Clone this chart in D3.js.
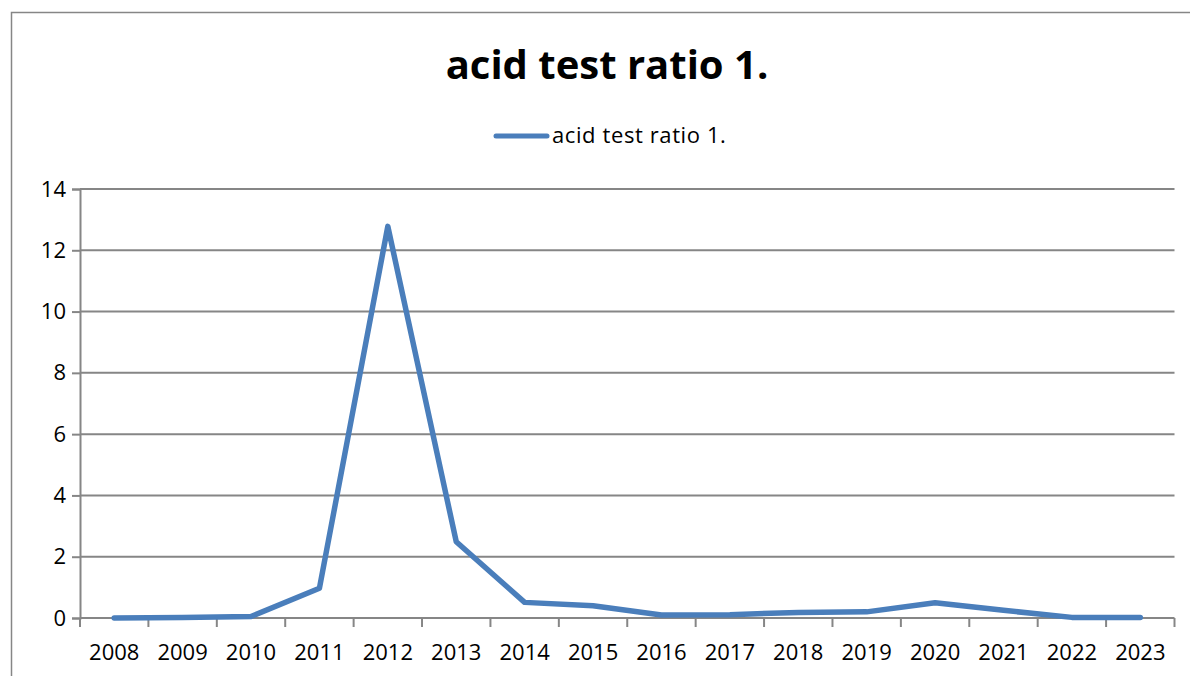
<!DOCTYPE html>
<html>
<head>
<meta charset="utf-8">
<script src="https://cdn.jsdelivr.net/npm/d3@7"></script>
<style>
  body { margin: 0; background: #fff; }
  svg { display: block; font-family: "Open Sans", Lato, sans-serif; }
</style>
</head>
<body>
<div id="chart"></div>
<script>
// chart data
var years = ['2008', '2009', '2010', '2011', '2012', '2013', '2014', '2015',
             '2016', '2017', '2018', '2019', '2020', '2021', '2022', '2023'];
var ratioValues = [0, 0.02, 0.05, 0.97, 12.78, 2.49, 0.51, 0.4,
                   0.1, 0.11, 0.18, 0.2, 0.5, 0.25, 0.02, 0.02];
var yTicks = [0, 2, 4, 6, 8, 10, 12, 14];
var seriesName = 'acid test ratio 1.';

var width = 1190;
var height = 676;
var margin = { top: 189, right: 1190 - 1174.5, bottom: 676 - 618, left: 80 };
var lineColor = '#4a7ebb';
var gridColor = '#868686';
var fontFamily = '"Open Sans", Lato, sans-serif';

var svg = d3.select('#chart').append('svg')
    .attr('width', width)
    .attr('height', height);

// outer chart border
svg.append('path')
    .attr('d', 'M11.5,' + height + 'V12.5H' + width)
    .attr('fill', 'none')
    .attr('stroke', gridColor)
    .attr('stroke-width', 1.5);

// title
svg.append('text')
    .attr('x', 607)
    .attr('y', 79)
    .attr('text-anchor', 'middle')
    .attr('font-size', 40)
    .attr('font-weight', 'bold')
    .attr('fill', '#000')
    .text(seriesName);

// legend
var legend = svg.append('g');
legend.append('line')
    .attr('x1', 496).attr('x2', 547)
    .attr('y1', 136).attr('y2', 136)
    .attr('stroke', lineColor)
    .attr('stroke-width', 5)
    .attr('stroke-linecap', 'round');
legend.append('text')
    .attr('x', 552)
    .attr('y', 143)
    .attr('font-size', 22)
    .attr('letter-spacing', 0.6)
    .attr('fill', '#000')
    .text(seriesName);

var x = d3.scaleBand()
    .domain(years)
    .range([margin.left, width - margin.right]);

var y = d3.scaleLinear()
    .domain([0, 14])
    .range([height - margin.bottom, margin.top]);

// y axis
var yAxis = svg.append('g')
    .attr('transform', 'translate(' + margin.left + ',0)')
    .call(d3.axisLeft(y)
        .tickValues(yTicks)
        .tickSize(8)
        .tickPadding(6));
yAxis.select('.domain').attr('stroke', gridColor).attr('stroke-width', 2);
yAxis.selectAll('.tick line').attr('stroke', gridColor).attr('stroke-width', 2);
yAxis.selectAll('.tick text')
    .attr('font-size', 22)
    .attr('fill', '#000')
    .attr('font-family', fontFamily);

// horizontal gridlines
svg.append('g')
    .selectAll('line')
    .data(yTicks)
    .join('line')
    .attr('x1', margin.left)
    .attr('x2', width - margin.right)
    .attr('y1', function (d) { return y(d); })
    .attr('y2', function (d) { return y(d); })
    .attr('stroke', gridColor)
    .attr('stroke-width', 2);

// category axis, ticks sit between categories
var xAxis = svg.append('g')
    .attr('transform', 'translate(0,' + y(0) + ')')
    .call(d3.axisBottom(x).tickSize(0).tickPadding(26));
xAxis.select('.domain').remove();
xAxis.selectAll('.tick text')
    .attr('font-size', 22)
    .attr('fill', '#000')
    .attr('font-family', fontFamily);

var boundaries = years.map(function (d) { return x(d); }).concat([x.range()[1]]);
svg.append('g')
    .selectAll('line')
    .data(boundaries)
    .join('line')
    .attr('x1', function (d) { return d; })
    .attr('x2', function (d) { return d; })
    .attr('y1', y(0))
    .attr('y2', y(0) + 9)
    .attr('stroke', gridColor)
    .attr('stroke-width', 2);

// series line
var line = d3.line()
    .x(function (d, i) { return x(years[i]) + x.bandwidth() / 2; })
    .y(function (d) { return y(d); });

svg.append('path')
    .datum(ratioValues)
    .attr('d', line)
    .attr('fill', 'none')
    .attr('stroke', lineColor)
    .attr('stroke-width', 5.5)
    .attr('stroke-linejoin', 'round')
    .attr('stroke-linecap', 'round');
</script>
</body>
</html>
